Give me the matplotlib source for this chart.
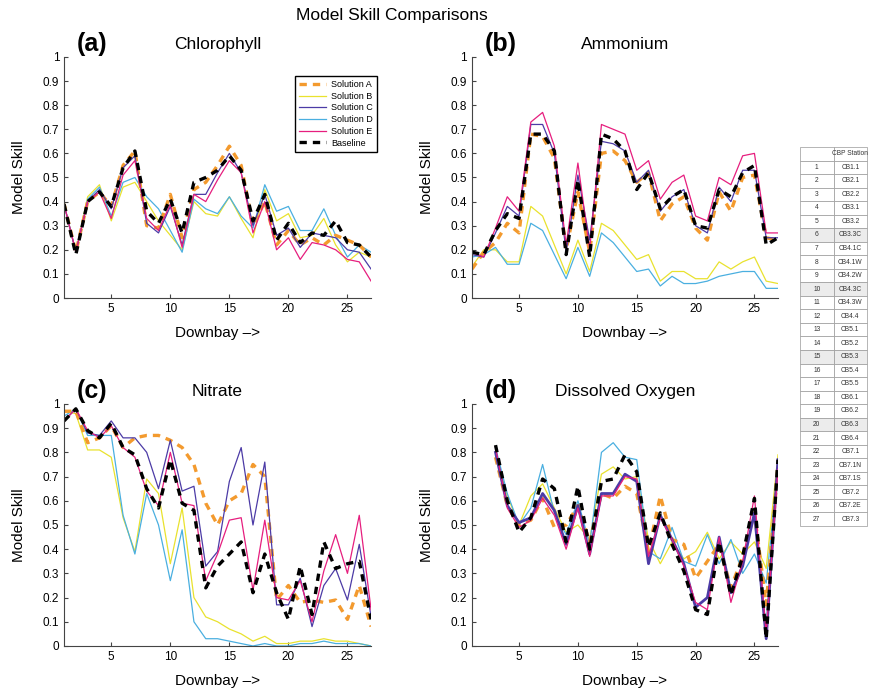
import matplotlib
matplotlib.use("Agg")
import matplotlib.pyplot as plt
import numpy as np

plt.rcParams['font.family'] = ['Liberation Sans', 'DejaVu Sans']

stations = np.arange(1, 28)
station_names = ["CB1.1", "CB2.1", "CB2.2", "CB3.1", "CB3.2", "CB3.3C", "CB4.1C", "CB4.1W", "CB4.2W",
                 "CB4.3C", "CB4.3W", "CB4.4", "CB5.1", "CB5.2", "CB5.3", "CB5.4", "CB5.5", "CB6.1",
                 "CB6.2", "CB6.3", "CB6.4", "CB7.1", "CB7.1N", "CB7.1S", "CB7.2", "CB7.2E", "CB7.3"]
shaded_rows = [6, 10, 15, 20]

series_names = ["Solution A", "Solution B", "Solution C", "Solution D", "Solution E", "Baseline"]

# Chlorophyll
chl_a = [0.39, 0.19, 0.40, 0.44, 0.38, 0.55, 0.61, 0.30, 0.29, 0.43, 0.25, 0.45, 0.48, 0.55, 0.63, 0.55,
         0.30, 0.40, 0.22, 0.28, 0.22, 0.25, 0.22, 0.26, 0.24, 0.22, 0.17]
chl_b = [0.39, 0.19, 0.42, 0.47, 0.32, 0.46, 0.48, 0.40, 0.32, 0.26, 0.20, 0.40, 0.35, 0.34, 0.42, 0.33,
         0.25, 0.45, 0.32, 0.35, 0.25, 0.26, 0.33, 0.22, 0.15, 0.19, 0.17]
chl_c = [0.39, 0.19, 0.40, 0.45, 0.37, 0.54, 0.59, 0.31, 0.27, 0.38, 0.22, 0.43, 0.43, 0.52, 0.60, 0.52,
         0.30, 0.43, 0.26, 0.29, 0.21, 0.27, 0.26, 0.25, 0.20, 0.19, 0.12]
chl_d = [0.39, 0.19, 0.41, 0.46, 0.34, 0.48, 0.50, 0.42, 0.37, 0.28, 0.19, 0.41, 0.37, 0.35, 0.42, 0.34,
         0.29, 0.47, 0.36, 0.38, 0.28, 0.28, 0.37, 0.26, 0.17, 0.22, 0.19]
chl_e = [0.39, 0.19, 0.40, 0.44, 0.33, 0.51, 0.57, 0.33, 0.28, 0.39, 0.21, 0.43, 0.40, 0.49, 0.57, 0.52,
         0.27, 0.40, 0.20, 0.25, 0.16, 0.23, 0.22, 0.20, 0.16, 0.15, 0.07]
chl_base = [0.39, 0.18, 0.40, 0.44, 0.38, 0.54, 0.61, 0.36, 0.31, 0.41, 0.27, 0.48, 0.50, 0.53, 0.59, 0.53,
            0.32, 0.43, 0.24, 0.31, 0.23, 0.27, 0.26, 0.32, 0.23, 0.22, 0.17]

# Ammonium
nh4_a = [0.12, 0.19, 0.23, 0.31, 0.27, 0.68, 0.67, 0.58, 0.20, 0.44, 0.19, 0.60, 0.61, 0.57, 0.48, 0.52,
         0.32, 0.39, 0.42, 0.29, 0.24, 0.44, 0.36, 0.50, 0.51, 0.25, 0.24]
nh4_b = [0.13, 0.20, 0.20, 0.15, 0.15, 0.38, 0.34, 0.22, 0.10, 0.24, 0.11, 0.31, 0.28, 0.22, 0.16, 0.18,
         0.07, 0.11, 0.11, 0.08, 0.08, 0.15, 0.12, 0.15, 0.17, 0.07, 0.06]
nh4_c = [0.18, 0.17, 0.27, 0.38, 0.34, 0.72, 0.72, 0.60, 0.19, 0.51, 0.24, 0.65, 0.64, 0.61, 0.48, 0.53,
         0.36, 0.42, 0.45, 0.30, 0.27, 0.46, 0.40, 0.53, 0.53, 0.25, 0.25]
nh4_d = [0.17, 0.18, 0.21, 0.14, 0.14, 0.31, 0.28, 0.18, 0.08, 0.21, 0.09, 0.27, 0.23, 0.17, 0.11, 0.12,
         0.05, 0.09, 0.06, 0.06, 0.07, 0.09, 0.10, 0.11, 0.11, 0.04, 0.04]
nh4_e = [0.19, 0.17, 0.29, 0.42, 0.36, 0.73, 0.77, 0.63, 0.22, 0.56, 0.20, 0.72, 0.70, 0.68, 0.53, 0.57,
         0.41, 0.48, 0.51, 0.34, 0.32, 0.50, 0.47, 0.59, 0.60, 0.27, 0.27]
nh4_base = [0.19, 0.18, 0.28, 0.35, 0.33, 0.68, 0.68, 0.61, 0.18, 0.49, 0.17, 0.68, 0.66, 0.61, 0.45, 0.52,
            0.37, 0.42, 0.45, 0.30, 0.29, 0.45, 0.42, 0.52, 0.55, 0.22, 0.25]

# Nitrate
no3_a = [0.97, 0.97, 0.84, 0.86, 0.91, 0.82, 0.86, 0.87, 0.87, 0.85, 0.82, 0.75, 0.59, 0.50, 0.60, 0.63,
         0.75, 0.70, 0.19, 0.25, 0.18, 0.19, 0.18, 0.19, 0.11, 0.25, 0.08]
no3_b = [0.97, 0.96, 0.81, 0.81, 0.78, 0.53, 0.39, 0.69, 0.63, 0.34, 0.57, 0.20, 0.12, 0.10, 0.07, 0.05,
         0.02, 0.04, 0.01, 0.01, 0.02, 0.02, 0.03, 0.02, 0.02, 0.01, 0.00]
no3_c = [0.93, 0.98, 0.88, 0.87, 0.93, 0.86, 0.86, 0.80, 0.65, 0.85, 0.64, 0.66, 0.33, 0.39, 0.68, 0.82,
         0.50, 0.76, 0.17, 0.17, 0.28, 0.08, 0.25, 0.32, 0.19, 0.42, 0.12]
no3_d = [0.95, 0.98, 0.87, 0.87, 0.87, 0.54, 0.38, 0.63, 0.50, 0.27, 0.48, 0.10, 0.03, 0.03, 0.02, 0.01,
         0.00, 0.01, 0.00, 0.00, 0.01, 0.01, 0.02, 0.01, 0.01, 0.01, 0.00]
no3_e = [0.93, 0.98, 0.89, 0.86, 0.91, 0.82, 0.78, 0.64, 0.58, 0.80, 0.59, 0.58, 0.27, 0.38, 0.52, 0.53,
         0.23, 0.52, 0.20, 0.19, 0.27, 0.10, 0.31, 0.46, 0.30, 0.54, 0.15]
no3_base = [0.93, 0.98, 0.89, 0.86, 0.92, 0.82, 0.79, 0.65, 0.57, 0.77, 0.59, 0.56, 0.24, 0.33, 0.38, 0.43,
            0.22, 0.38, 0.22, 0.11, 0.33, 0.13, 0.43, 0.32, 0.34, 0.35, 0.11]

# Dissolved oxygen (no values at stations 1-2)
nan = np.nan
do_a = [nan, nan, 0.78, 0.58, 0.50, 0.52, 0.61, 0.49, 0.50, 0.58, 0.43, 0.63, 0.61, 0.66, 0.63, 0.39,
        0.62, 0.44, 0.42, 0.28, 0.35, 0.42, 0.24, 0.37, 0.55, 0.17, 0.74]
do_b = [nan, nan, 0.80, 0.62, 0.50, 0.62, 0.67, 0.57, 0.47, 0.50, 0.44, 0.71, 0.74, 0.69, 0.70, 0.44,
        0.34, 0.43, 0.36, 0.39, 0.47, 0.36, 0.43, 0.38, 0.43, 0.32, 0.79]
do_c = [nan, nan, 0.80, 0.58, 0.51, 0.53, 0.63, 0.56, 0.42, 0.58, 0.38, 0.63, 0.63, 0.71, 0.68, 0.34,
        0.54, 0.44, 0.34, 0.16, 0.20, 0.45, 0.22, 0.33, 0.55, 0.03, 0.77]
do_d = [nan, nan, 0.82, 0.63, 0.50, 0.57, 0.75, 0.55, 0.46, 0.60, 0.42, 0.80, 0.84, 0.78, 0.77, 0.39,
        0.36, 0.49, 0.35, 0.33, 0.46, 0.34, 0.44, 0.30, 0.38, 0.26, 0.73]
do_e = [nan, nan, 0.82, 0.57, 0.49, 0.52, 0.61, 0.54, 0.40, 0.57, 0.37, 0.62, 0.62, 0.70, 0.69, 0.37,
        0.53, 0.44, 0.33, 0.18, 0.15, 0.45, 0.18, 0.35, 0.62, 0.05, 0.73]
do_base = [nan, nan, 0.83, 0.60, 0.47, 0.53, 0.69, 0.65, 0.43, 0.66, 0.40, 0.68, 0.69, 0.79, 0.72, 0.41,
           0.55, 0.42, 0.31, 0.15, 0.13, 0.43, 0.21, 0.37, 0.61, 0.03, 0.77]

panels = [
    ("(a)", "Chlorophyll", [chl_a, chl_b, chl_c, chl_d, chl_e, chl_base]),
    ("(b)", "Ammonium", [nh4_a, nh4_b, nh4_c, nh4_d, nh4_e, nh4_base]),
    ("(c)", "Nitrate", [no3_a, no3_b, no3_c, no3_d, no3_e, no3_base]),
    ("(d)", "Dissolved Oxygen", [do_a, do_b, do_c, do_d, do_e, do_base]),
]

colors = ['#F39A2E', '#E9E22E', '#4C3BA6', '#4AAFE0', '#E61E7E', 'black']
styles = [dict(ls=(0, (2.2, 1.8)), lw=2.4), dict(ls='-', lw=0.9), dict(ls='-', lw=0.9),
          dict(ls='-', lw=0.9), dict(ls='-', lw=0.9), dict(ls=(0, (2.2, 1.8)), lw=2.4)]
draw_order = [1, 3, 0, 2, 4, 5]

positions = [[0.0731, 0.5706, 0.3505, 0.3473], [0.5388, 0.5706, 0.3493, 0.3473],
             [0.0731, 0.0692, 0.3505, 0.3487], [0.5388, 0.0692, 0.3493, 0.3487]]

fig = plt.figure(figsize=(8.76, 6.94), dpi=100)

for k, (tag, title, data) in enumerate(panels):
    ax = fig.add_axes(positions[k])
    handles = [None] * 6
    for i in draw_order:
        st = dict(styles[i])
        if k == 3 and i == 2:
            st['lw'] = 2.0
        line, = ax.plot(stations, data[i], color=colors[i], label=series_names[i], **st)
        handles[i] = line
    ax.set_xlim(1, 27)
    ax.set_ylim(0, 1)
    ax.set_xticks([5, 10, 15, 20, 25])
    ax.set_yticks(np.arange(0, 1.01, 0.1))
    ax.set_yticklabels(['0'] + ['%.1f' % v for v in np.arange(0.1, 0.95, 0.1)] + ['1'])
    ax.tick_params(direction='in', length=3, labelsize=8.5, color='#444444')
    for s in ['top', 'right']:
        ax.spines[s].set_visible(False)
    for s in ['left', 'bottom']:
        ax.spines[s].set_color('#444444')
        ax.spines[s].set_linewidth(0.8)
    ax.set_ylabel("Model Skill", fontsize=11)
    ax.yaxis.set_label_coords(-0.123, 0.5)
    ax.set_xlabel("Downbay –>", fontsize=11, labelpad=8)
    ax.set_title(title, fontsize=12.5, pad=6)
    ax.text(0.042, 1.005, tag, transform=ax.transAxes, fontsize=18, fontweight='bold', va='bottom')
    if k == 0:
        leg = ax.legend(handles=handles, loc='upper right', bbox_to_anchor=(0.4304, 0.8905),
                        bbox_transform=fig.transFigure, fontsize=6.5, fancybox=False,
                        edgecolor='black', handlelength=3.0, labelspacing=0.3, borderpad=0.45,
                        handletextpad=0.6, borderaxespad=0, framealpha=1)
        leg.get_frame().set_linewidth(1.0)

fig.text(0.447, 0.978, "Model Skill Comparisons", fontsize=12.5, ha='center', va='center')

# station lookup table
tax = fig.add_axes([800 / 876, 1 - 526 / 694, 67 / 876, 379 / 694])
tax.axis('off')
cell_text = [["", "CBP Station"]] + [[str(n), name] for n, name in zip(stations, station_names)]
tbl = tax.table(cellText=cell_text, cellLoc='center', bbox=[0, 0, 1, 1])
tbl.auto_set_font_size(False)
for (r, c), cell in tbl.get_celld().items():
    cell.set_fontsize(4.8)
    cell.set_edgecolor('#999999')
    cell.set_linewidth(0.5)
    cell.get_text().set_color('#333333')
    if r in shaded_rows:
        cell.set_facecolor('#ececec')

fig.savefig("out.png", dpi=100)
